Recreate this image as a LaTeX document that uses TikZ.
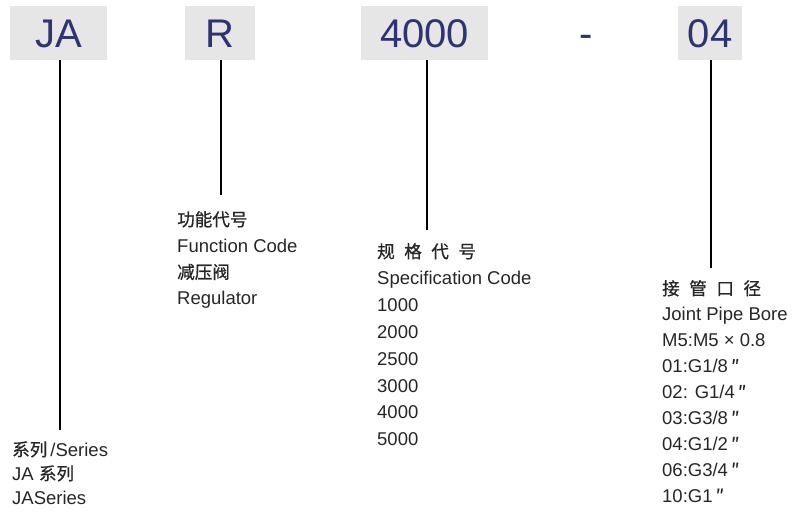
\documentclass[tikz,border=0pt]{standalone}
\usepackage{fontspec}
\setmainfont{Liberation Sans}
\newfontfamily\cjk[Scale=0.95,FakeBold=0.8]{Noto Sans CJK SC}
\newcommand{\cn}[1]{{\cjk #1}}
\newcommand{\gap}{\hspace{9.5pt}}
\definecolor{navy}{HTML}{2E3373}
\definecolor{boxgray}{HTML}{E6E6E6}
\tikzset{
  code/.style={fill=boxgray, text=navy, font=\fontsize{40}{40}\selectfont,
    text height=28.6pt, text depth=0pt, minimum height=54pt, inner sep=0pt},
  txt/.style={font=\fontsize{18.5}{20}\selectfont, text=black!85,
    anchor=base west, inner sep=0pt},
  lead/.style={line width=2pt}
}
\begin{document}
\begin{tikzpicture}[x=1pt,y=-1pt]
  \useasboundingbox (0,0) rectangle (794,513);
  % ------ the code boxes -----------------
  \node[code, minimum width=97pt] (ja) at (58.5,33) {JA};
  \node[code, minimum width=70pt] (fn) at (220,33) {R};
  \node[code, minimum width=127pt] (spec) at (424.5,33) {4000};
  \node[code, fill=none] (dash) at (586,33) {-};
  \node[code, minimum width=64pt] (bore) at (710,33) {04};
  % ------ the leads -----------------
  \coordinate (jaend) at (60,430);
  \coordinate (fnend) at (221,195);
  \coordinate (specend) at (427,230);
  \coordinate (boreend) at (711,268);
  \draw[lead] (jaend |- ja.south) -- (jaend);
  \draw[lead] (fnend |- fn.south) -- (fnend);
  \draw[lead] (specend |- spec.south) -- (specend);
  \draw[lead] (boreend |- bore.south) -- (boreend);
  % ------ the legends -----------------
  \foreach \t [count=\i] in {{\cn{系列}\,/Series}, {JA \cn{系列}}, JASeries}
    \node[txt] (ser\i) at (12,{456+24*(\i-1)}) {\t};
  \foreach \t [count=\i] in {\cn{功能代号}, Function Code, \cn{减压阀}, Regulator}
    \node[txt] (fun\i) at (177,{226+26.3*(\i-1)}) {\t};
  \foreach \t [count=\i] in {\cn{规\gap 格\gap 代\gap 号}, Specification Code,
      1000, 2000, 2500, 3000, 4000, 5000}
    \node[txt] (spc\i) at (377,{258+26.8*(\i-1)}) {\t};
  \foreach \t [count=\i] in {\cn{接\gap 管\gap 口\gap 径}, Joint Pipe Bore,
      M5:M5 × 0.8, 01:G1/8\,\cn{″}, 02: G1/4\,\cn{″}, 03:G3/8\,\cn{″},
      04:G1/2\,\cn{″}, 06:G3/4\,\cn{″}, 10:G1\,\cn{″}}
    \node[txt] (pip\i) at (662,{295+25.9*(\i-1)}) {\t};
\end{tikzpicture}
\end{document}
